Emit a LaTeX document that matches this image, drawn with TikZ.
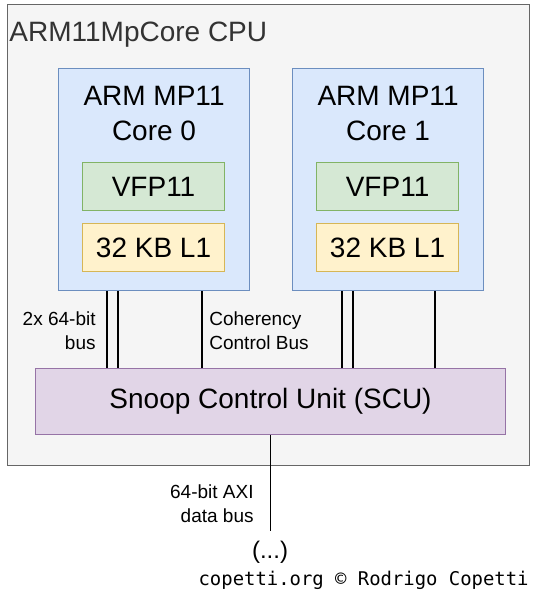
\documentclass[tikz,border=0pt]{standalone}
\usepackage{fontspec}
\setmainfont{Liberation Sans}
\newfontfamily\creditfont{DejaVu Sans Mono}
\usepackage{xcolor}
\usepackage{tikz}
\usetikzlibrary{positioning,calc}

\definecolor{cpufill}{HTML}{F5F5F5}
\definecolor{cpuline}{HTML}{666666}
\definecolor{cputext}{HTML}{333333}
\definecolor{corefill}{HTML}{DAE8FC}
\definecolor{coreline}{HTML}{6C8EBF}
\definecolor{vfpfill}{HTML}{D5E8D4}
\definecolor{vfpline}{HTML}{82B366}
\definecolor{cachefill}{HTML}{FFF2CC}
\definecolor{cacheline}{HTML}{D6B656}
\definecolor{scufill}{HTML}{E1D5E7}
\definecolor{sculine}{HTML}{9673A6}

\tikzset{
  unit/.style={draw, line width=1.1pt, inner sep=0pt, anchor=north west},
  bigtext/.style={font=\fontsize{28}{35}\selectfont, align=center, inner sep=0pt},
  smalltext/.style={font=\fontsize{19}{24}\selectfont, inner sep=0pt},
  bus/.style={draw=black, line width=1.6pt}
}

\begin{document}
\begin{tikzpicture}[x=1pt, y=-1pt, thick]
\useasboundingbox (0,0) rectangle (534,596);

% the CPU package
\node[unit, draw=cpuline, fill=cpufill, minimum width=522, minimum height=461] (cpu) at (7,4) {};
\node[anchor=base west, inner sep=0pt, text=cputext, font=\fontsize{28}{32}\selectfont] (cputitle) at (9,42) {ARM11MpCore CPU};

% cores
\node[unit, draw=coreline, fill=corefill, minimum width=191, minimum height=222] (core0) at (58,68) {};
\node[unit, draw=coreline, fill=corefill, minimum width=191, minimum height=222] (core1) at (292,68) {};
\node[bigtext] (core0name) at ($(core0.north)+(0,45.5)$) {ARM MP11\\Core 0};
\node[bigtext] (core1name) at ($(core1.north)+(0,45.5)$) {ARM MP11\\Core 1};

\node[unit, draw=vfpline, fill=vfpfill, minimum width=142, minimum height=48, bigtext] (vfp0) at ($(core0.north west)+(24,94)$) {VFP11};
\node[unit, draw=vfpline, fill=vfpfill, minimum width=142, minimum height=48, bigtext] (vfp1) at ($(core1.north west)+(24,94)$) {VFP11};
\node[unit, draw=cacheline, fill=cachefill, minimum width=142, minimum height=48, bigtext] (cache0) at ($(core0.north west)+(24,155)$) {32 KB L1};
\node[unit, draw=cacheline, fill=cachefill, minimum width=142, minimum height=48, bigtext] (cache1) at ($(core1.north west)+(24,155)$) {32 KB L1};

% snoop control unit
\node[unit, draw=sculine, fill=scufill, minimum width=470, minimum height=66, bigtext] (scu) at (35,368) {Snoop Control Unit (SCU)};

% buses between cores and SCU
\coordinate (b0a) at ([xshift=-47]core0.south);
\coordinate (b0b) at ([xshift=-36]core0.south);
\coordinate (b0c) at ([xshift=48]core0.south);
\coordinate (b1a) at ([xshift=-46]core1.south);
\coordinate (b1b) at ([xshift=-35]core1.south);
\coordinate (b1c) at ([xshift=47]core1.south);

\draw[bus] (b0a) -- (b0a |- scu.north);
\draw[bus] (b0b) -- (b0b |- scu.north);
\draw[bus] (b0c) -- (b0c |- scu.north);
\draw[bus] (b1a) -- (b1a |- scu.north);
\draw[bus] (b1b) -- (b1b |- scu.north);
\draw[bus] (b1c) -- (b1c |- scu.north);

\node[smalltext, align=right, anchor=east] (datalbl) at (96,331) {2x 64-bit\\bus};
\node[smalltext, align=left, anchor=west] (cohlbl) at (209,331) {Coherency\\Control Bus};

% AXI bus out of the package
\coordinate (axiend) at ($(scu.south)+(0,96)$);
\draw[bus] (scu.south) -- (axiend);
\node[smalltext, align=right, anchor=east] (axilbl) at (254,504) {64-bit AXI\\data bus};
\node[inner sep=0pt, font=\fontsize{24}{28}\selectfont] (more) at (270,552) {(...)};

\node[anchor=base east, inner sep=0pt, font=\creditfont\fontsize{18.9}{22}\selectfont] (credit) at (529,585) {copetti.org © Rodrigo Copetti};
\end{tikzpicture}
\end{document}
